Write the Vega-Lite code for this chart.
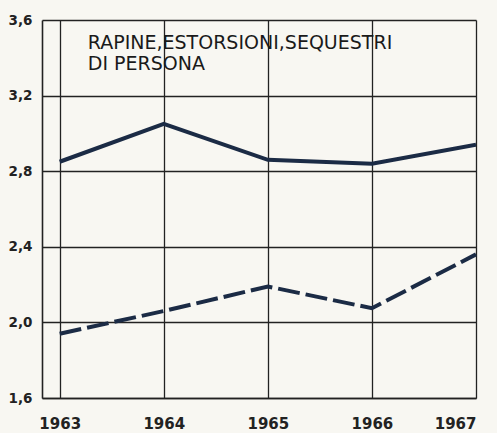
{
  "$schema": "https://vega.github.io/schema/vega-lite/v6.json",
  "width": 434,
  "height": 378,
  "autosize": {"type": "none"},
  "padding": {"left": 42, "top": 20, "right": 21, "bottom": 35},
  "background": "#f8f7f2",
  "config": {
    "view": {"stroke": null},
    "axis": {
      "gridColor": "#222222",
      "gridOpacity": 1,
      "gridWidth": 1.3,
      "domainColor": "#222222",
      "domainWidth": 1.6,
      "ticks": false,
      "labelFont": "DejaVu Sans",
      "labelFontWeight": "bold",
      "labelColor": "#222222",
      "title": null
    }
  },
  "datasets": {
    "series": [
      {"year": 1963, "value": 2.85, "serie": "a"},
      {"year": 1964, "value": 3.05, "serie": "a"},
      {"year": 1965, "value": 2.86, "serie": "a"},
      {"year": 1966, "value": 2.84, "serie": "a"},
      {"year": 1967, "value": 2.94, "serie": "a"},
      {"year": 1963, "value": 1.94, "serie": "b"},
      {"year": 1964, "value": 2.06, "serie": "b"},
      {"year": 1965, "value": 2.19, "serie": "b"},
      {"year": 1966, "value": 2.075, "serie": "b"},
      {"year": 1967, "value": 2.36, "serie": "b"}
    ],
    "labels": [
      {"year": 1963.27, "value": 3.476, "text": "RAPINE,ESTORSIONI,SEQUESTRI"},
      {"year": 1963.27, "value": 3.365, "text": "DI PERSONA"}
    ]
  },
  "layer": [
    {
      "data": {"name": "series"},
      "transform": [{"filter": "datum.serie == 'a'"}],
      "mark": {"type": "line", "color": "#1b2b45", "strokeWidth": 4, "clip": true},
      "encoding": {
        "x": {
          "field": "year", "type": "quantitative",
          "scale": {"domain": [1962.83, 1967], "nice": false, "zero": false},
          "axis": {"values": [1963, 1964, 1965, 1966, 1967], "format": "d", "labelPadding": 18, "labelFontSize": 15, "grid": true}
        },
        "y": {
          "field": "value", "type": "quantitative",
          "scale": {"domain": [1.6, 3.6], "nice": false, "zero": false},
          "axis": {"values": [1.6, 2.0, 2.4, 2.8, 3.2, 3.6], "labelExpr": "replace(format(datum.value, '.1f'), '.', ',')", "labelPadding": 10, "labelFontSize": 13.5, "grid": true}
        }
      }
    },
    {
      "data": {"name": "series"},
      "transform": [{"filter": "datum.serie == 'b'"}],
      "mark": {"type": "line", "color": "#1b2b45", "strokeWidth": 4, "strokeDash": [22, 6]},
      "encoding": {
        "x": {"field": "year", "type": "quantitative"},
        "y": {"field": "value", "type": "quantitative"}
      }
    },
    {
      "data": {"name": "labels"},
      "mark": {"type": "text", "align": "left", "baseline": "middle", "font": "DejaVu Sans", "fontSize": 19, "color": "#1a1a1a"},
      "encoding": {
        "x": {"field": "year", "type": "quantitative"},
        "y": {"field": "value", "type": "quantitative"},
        "text": {"field": "text"}
      }
    }
  ]
}
